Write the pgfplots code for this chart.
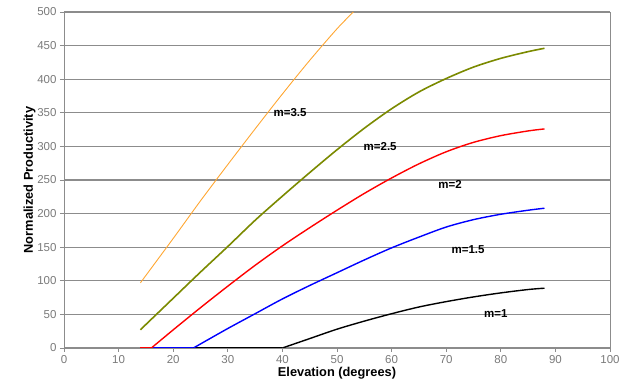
\documentclass[border=0pt]{standalone}
\usepackage{pgfplots}
\pgfplotsset{compat=1.18}
\usepackage{fontspec}
\setmainfont{Liberation Sans}
\definecolor{c35}{HTML}{FFA733}
\definecolor{c25}{HTML}{7B8A00}
\definecolor{gridc}{HTML}{8C8C8C}
\definecolor{tickc}{HTML}{7A7A7A}
\begin{document}
\begin{tikzpicture}
\begin{axis}[name=ax,
  scale only axis, width=546pt, height=336pt,
  xmin=0, xmax=100, ymin=0, ymax=500,
  xtick={0,10,...,100}, ytick={0,50,...,500},
  /pgf/number format/assume math mode=true,
  ticklabel style={font=\fontsize{11.5}{13}\selectfont, text=tickc},
  tick style={gridc, line width=0.8pt},
  tick align=outside, major tick length=4pt,
  xtick pos=bottom, ytick pos=left,
  ymajorgrids, grid style={gridc, line width=1.1pt},
  axis line style={gridc, line width=0.8pt},
  xlabel={\bfseries Elevation (degrees)},
  ylabel={\bfseries Normalized Productivity},
  label style={font=\fontsize{12.8}{15}\selectfont},
  xlabel style={yshift=3pt},
  ylabel style={yshift=-5pt},
  clip=true,
]
% m=1
\addplot[black, line width=1.4pt] coordinates {(14,0)(40,0)};
\addplot[black, line width=1.4pt, smooth] coordinates {(40,0)(45,14)(50,28)(55,40)(60,51)(65,61)(70,69)(75,76)(80,82)(85,87)(88,89)};
% m=1.5
\addplot[blue, line width=1.4pt] coordinates {(14,0)(23.7,0)};
\addplot[blue, line width=1.4pt, smooth] coordinates {(23.7,0)(25,6)(30,29)(35,51)(40,73)(45,93)(50,112)(55,131)(60,149)(65,165)(70,180)(75,191)(80,199)(85,205)(88,208)};
% m=2
\addplot[red, line width=1.4pt] coordinates {(14,0)(16,0)};
\addplot[red, line width=1.4pt, smooth] coordinates {(16,0)(20,27)(25,60)(30,92)(35,123)(40,152)(45,179)(50,205)(55,230)(60,253)(65,274)(70,292)(75,306)(80,316)(85,323)(88,326)};
% m=2.5
\addplot[c25, line width=1.6pt, smooth] coordinates {(14,27)(15,35)(20,74)(25,113)(30,151)(35,190)(40,226)(45,261)(50,295)(55,327)(60,356)(65,381)(70,401)(75,418)(80,431)(85,441)(88,446)};
% m=3.5
\addplot[c35, line width=0.9pt, smooth] coordinates {(14,97)(20,163)(25,219)(30,273)(35,326)(40,378)(45,428)(50,475)(53,500)};
\node[font=\bfseries\fontsize{11.5}{13}\selectfont] at (axis cs:41.4,351) {m=3.5};
\node[font=\bfseries\fontsize{11.5}{13}\selectfont] at (axis cs:57.9,300) {m=2.5};
\node[font=\bfseries\fontsize{11.5}{13}\selectfont] at (axis cs:70.7,244) {m=2};
\node[font=\bfseries\fontsize{11.5}{13}\selectfont] at (axis cs:74,146) {m=1.5};
\node[font=\bfseries\fontsize{11.5}{13}\selectfont] at (axis cs:79.1,52) {m=1};
\end{axis}
\pgfresetboundingbox
\path ([shift={(-64pt,-44pt)}]ax.south west) rectangle ([shift={(19pt,12pt)}]ax.north east);
\end{tikzpicture}
\end{document}
